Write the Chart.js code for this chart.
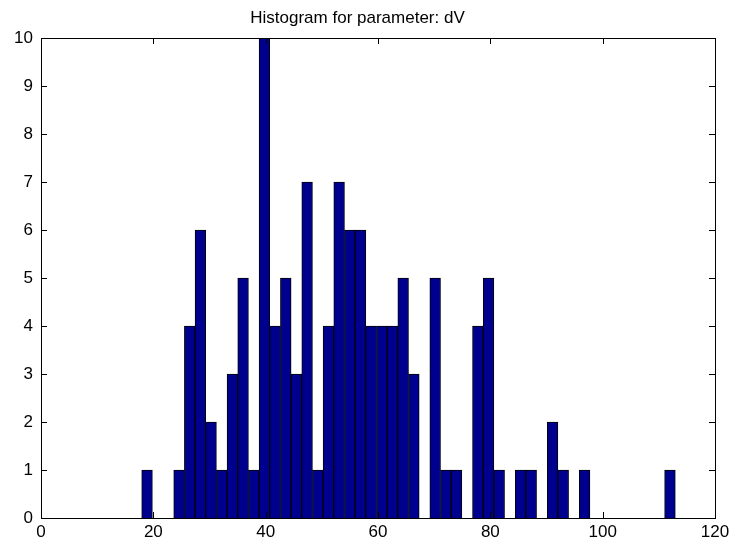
<!DOCTYPE html>
<html>
<head>
<meta charset="utf-8">
<script src="https://cdn.jsdelivr.net/npm/chart.js@4"></script>
<style>
  body { margin: 0; background: #fff; }
  #wrap { width: 734px; height: 547px; }
</style>
</head>
<body>
<div id="wrap"><canvas id="histChart"></canvas></div>
<script>
// histogram data (50 bins)
const binCenters = [
  18.88, 20.78, 22.68, 24.58, 26.48, 28.38, 30.28, 32.18, 34.08, 35.98,
  37.88, 39.78, 41.68, 43.58, 45.48, 47.38, 49.28, 51.18, 53.08, 54.98,
  56.88, 58.78, 60.68, 62.58, 64.48, 66.38, 68.28, 70.18, 72.08, 73.98,
  75.88, 77.78, 79.68, 81.58, 83.48, 85.38, 87.28, 89.18, 91.08, 92.98,
  94.88, 96.78, 98.68, 100.58, 102.48, 104.38, 106.28, 108.18, 110.08, 111.98
];
const counts = [
  1, 0, 0, 1, 4, 6, 2, 1, 3, 5,
  1, 10, 4, 5, 3, 7, 1, 4, 7, 6,
  6, 4, 4, 4, 5, 3, 0, 5, 1, 1,
  0, 4, 5, 1, 0, 1, 1, 0, 2, 1,
  0, 1, 0, 0, 0, 0, 0, 0, 0, 1
];
const xTicks = [0, 20, 40, 60, 80, 100, 120];
const yTicks = [0, 1, 2, 3, 4, 5, 6, 7, 8, 9, 10];

// MATLAB style box with tick marks pointing inward
const insideTicks = {
    id: 'insideTicks',
    afterDatasetsDraw(chart) {
        const ctx = chart.ctx;
        const a = chart.chartArea;
        const x = chart.scales.x;
        const y = chart.scales.y;
        const len = 6;
        ctx.save();
        ctx.strokeStyle = '#000';
        ctx.lineWidth = 1;
        ctx.beginPath();
        xTicks.forEach(v => {
            const px = Math.round(x.getPixelForValue(v)) + 0.5;
            ctx.moveTo(px, a.bottom);
            ctx.lineTo(px, a.bottom - len);
            ctx.moveTo(px, a.top);
            ctx.lineTo(px, a.top + len);
        });
        yTicks.forEach(v => {
            const py = Math.round(y.getPixelForValue(v)) + 0.5;
            ctx.moveTo(a.left, py);
            ctx.lineTo(a.left + len, py);
            ctx.moveTo(a.right, py);
            ctx.lineTo(a.right - len, py);
        });
        ctx.stroke();
        ctx.strokeRect(Math.round(a.left) + 0.5, Math.round(a.top) + 0.5,
            Math.round(a.width), Math.round(a.height));
        ctx.restore();
    }
};

const tickFont = { family: 'Liberation Sans, Arial, sans-serif', size: 17 };

new Chart(document.getElementById('histChart'), {
    type: 'bar',
    data: {
        datasets: [{
            data: binCenters.map((c, i) => ({ x: c, y: counts[i] })),
            backgroundColor: '#00008f',
            borderColor: '#000',
            borderWidth: 1,
            barPercentage: 1,
            categoryPercentage: 1
        }]
    },
    options: {
        responsive: true,
        maintainAspectRatio: false,
        animation: false,
        layout: { padding: { left: 0, right: 19, top: 0, bottom: 0 } },
        plugins: {
            legend: { display: false },
            tooltip: { enabled: false },
            title: {
                display: true,
                text: 'Histogram for parameter: dV',
                color: '#000',
                font: { family: 'Liberation Sans, Arial, sans-serif', size: 17, weight: 'normal' },
                padding: { top: 8, bottom: 9.6 }
            }
        },
        scales: {
            x: {
                type: 'linear',
                min: 0,
                max: 120,
                offset: false,
                grid: { display: false, drawTicks: false, offset: false },
                border: { display: false },
                afterFit: s => { s.height = 29; },
                afterBuildTicks: s => { s.ticks = xTicks.map(v => ({ value: v })); },
                ticks: { color: '#000', font: tickFont, padding: 4, maxRotation: 0 }
            },
            y: {
                min: 0,
                max: 10,
                grid: { display: false, drawTicks: false },
                border: { display: false },
                afterFit: s => { s.width = 41; },
                afterBuildTicks: s => { s.ticks = yTicks.map(v => ({ value: v })); },
                ticks: { color: '#000', font: tickFont, padding: 8 }
            }
        }
    },
    plugins: [insideTicks]
});
</script>
</body>
</html>
